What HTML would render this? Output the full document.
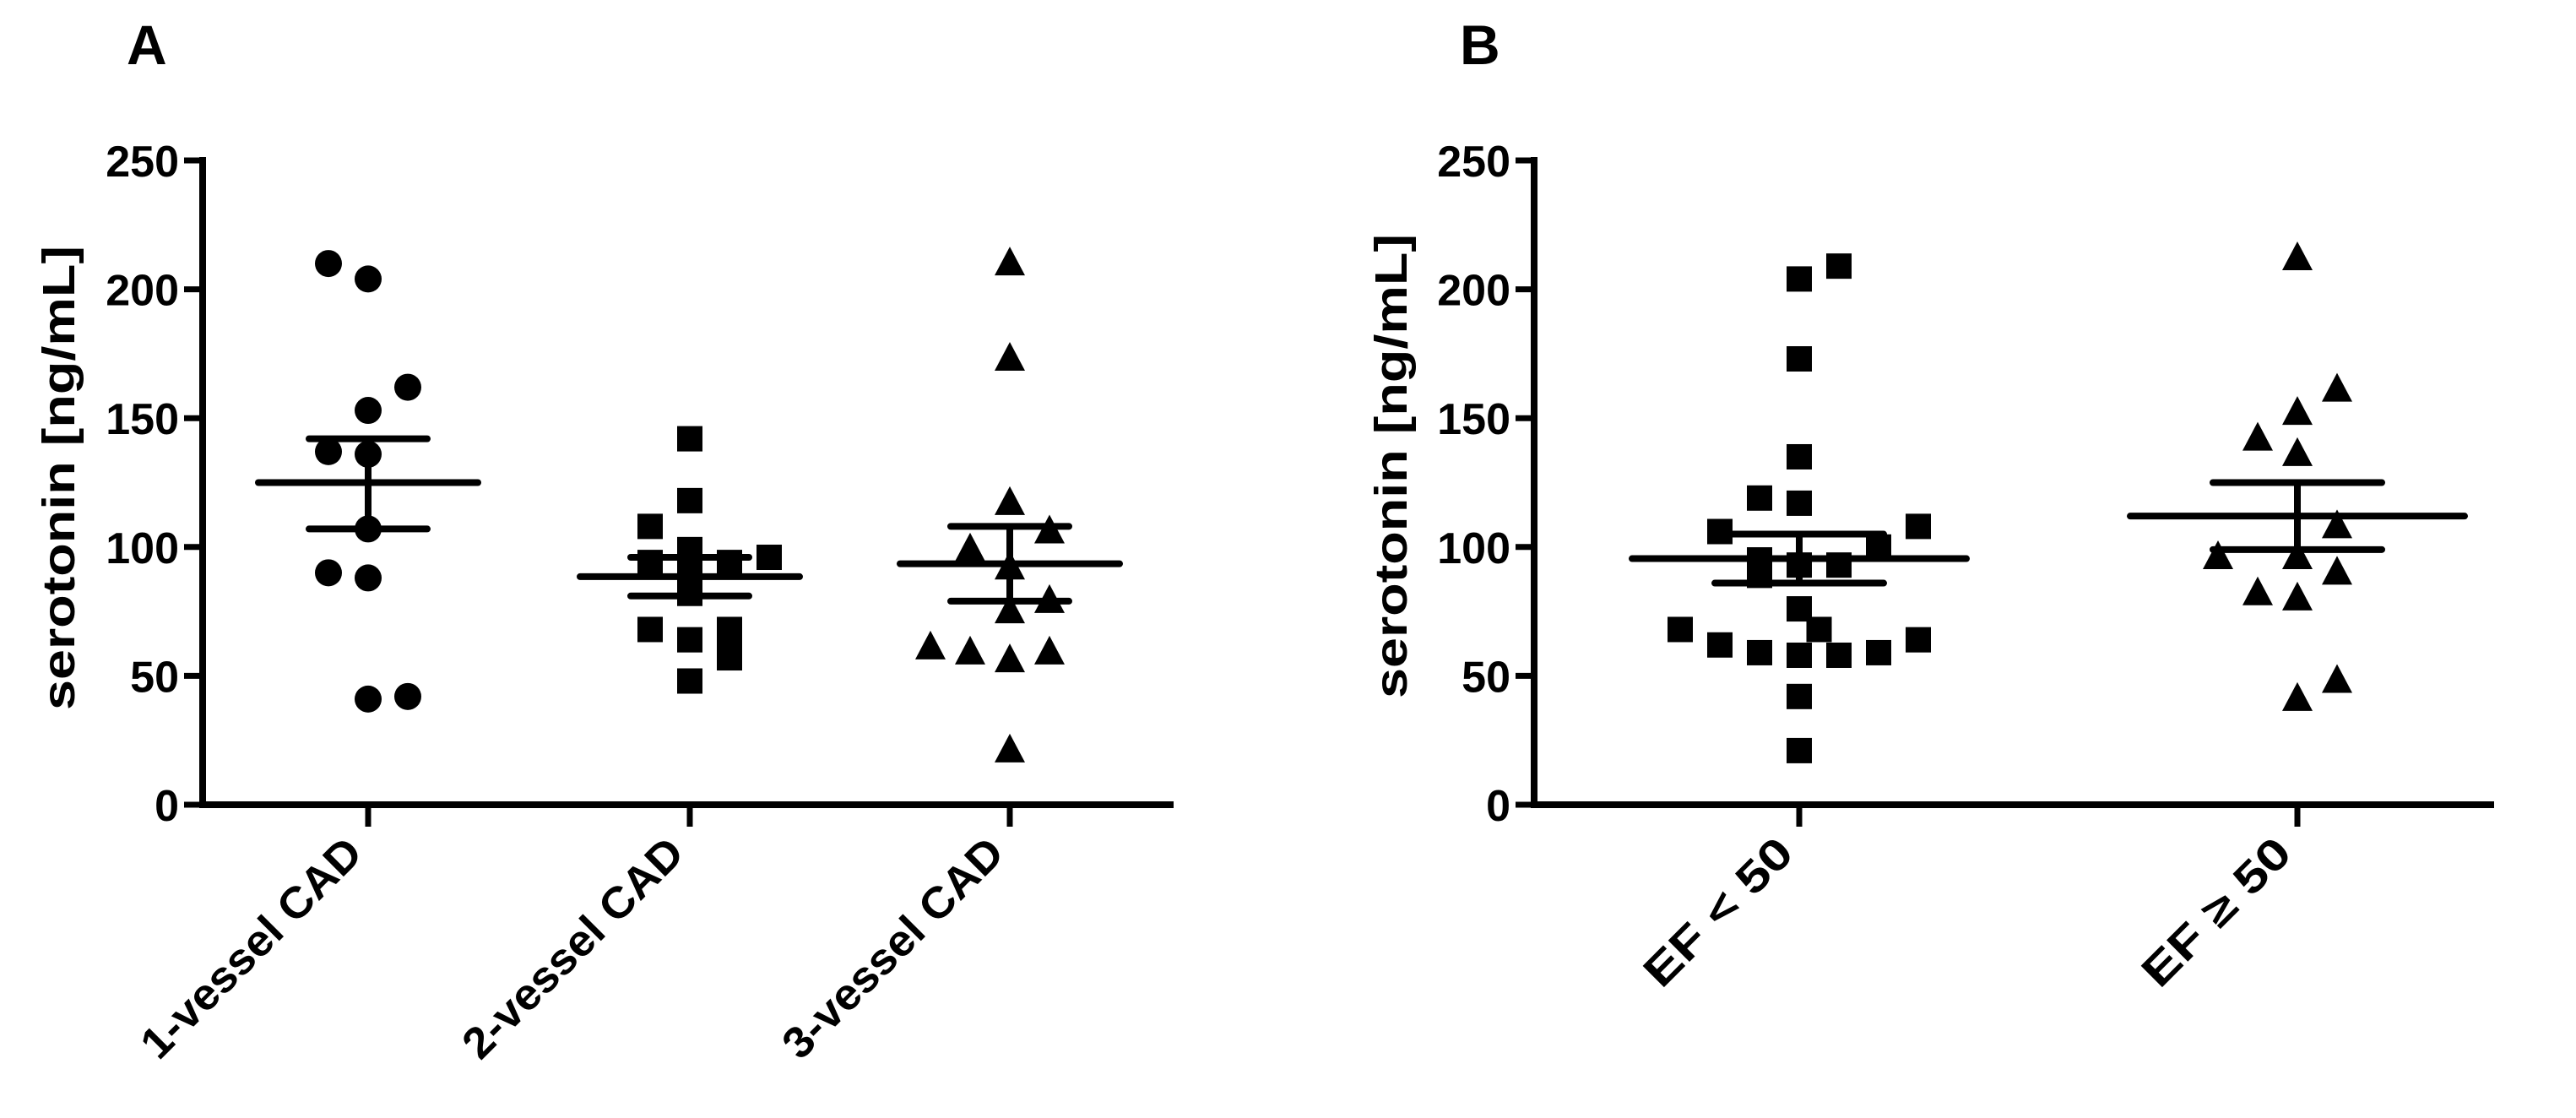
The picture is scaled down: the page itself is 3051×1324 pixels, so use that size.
<!DOCTYPE html>
<html><head><meta charset="utf-8"><style>
html,body{margin:0;padding:0;background:#fff;}
svg{display:block;}
text{font-family:"Liberation Sans",Arial,sans-serif;font-weight:bold;fill:#000;}
</style></head><body>
<svg id="chart" width="3051" height="1324" viewBox="0 0 3051 1324" xmlns="http://www.w3.org/2000/svg"></svg>
<script>
// ---- data ----
const yTicks = [0, 50, 100, 150, 200, 250];
const catsA = ["1-vessel CAD", "2-vessel CAD", "3-vessel CAD"];
const catsB = ["EF < 50", "EF \u2265 50"];
// values and jitter slot (in marker steps) per group
const a1Vals = [210, 204, 162, 153, 137, 136, 107, 90, 88, 41, 42];
const a1Slot = [-1, 0, 1, 0, -1, 0, 0, -1, 0, 0, 1];
const a2Vals = [142, 118, 108, 99, 96, 94, 94, 90, 82, 68, 64, 68, 60, 57, 48];
const a2Slot = [0, 0, -1, 0, 2, -1, 1, 0, 0, -1, 0, 1, 1, 1, 0];
const a3Vals = [210, 173, 117, 106, 99, 92, 79, 75, 61, 59, 56, 59, 21];
const a3Slot = [0, 0, 0, 1, -1, 0, 1, 0, -2, -1, 0, 1, 0];
const b1Vals = [21, 42, 59, 62, 68, 58, 58, 59, 64, 68, 76, 89, 93, 93, 95, 100, 106, 108, 117, 119, 135, 173, 204, 209];
const b1Slot = [0, 0, -1, -2, -3, 0, 1, 2, 3, 0.5, 0, -1, 0, 1, -1, 2, -2, 3, 0, -1, 0, 0, 0, 1];
const b2Vals = [212, 161, 152, 142, 136, 108, 96, 96, 90, 82, 80, 48, 41];
const b2Slot = [0, 1, 0, -1, 0, 1, -2, 0, 1, -1, 0, 1, 0];
const meansA = [125, 88.5, 93.5];
const upperA = [142, 96, 108];
const lowerA = [107, 81, 79];
const meansB = [95.5, 112];
const upperB = [105, 125];
const lowerB = [86, 99];

const NS = "http://www.w3.org/2000/svg";
const svg = document.getElementById("chart");
function mk(tag, attrs, parent) {
  const e = document.createElementNS(NS, tag);
  for (const k in attrs) e.setAttribute(k, attrs[k]);
  (parent || svg).appendChild(e);
  return e;
}
const Y0 = 953, Y250 = 190;
function yS(v) { return Y0 - (v / 250) * (Y0 - Y250); }
const STEP = 47;

function drawPanel(p) {
  const g = mk("g", {});
  
  
  const L = mk("text", { x: p.letterX, y: 76, "font-size": 66 }, g);
  L.textContent = p.letter;
  
  
  const ax = mk("path", { d: `M${p.ax},${yS(250)} V${Y0} H${p.axEnd}`, stroke: "#000", "stroke-width": 8, fill: "none", "stroke-linecap": "square" }, g);
  
  
  yTicks.forEach(t => {
    const tk = mk("line", { x1: p.ax - 22, x2: p.ax, y1: yS(t), y2: yS(t), stroke: "#000", "stroke-width": 7 }, g);
    
    
    const tl = mk("text", { x: p.ax - 28, y: yS(t) + 19, "font-size": 52, "text-anchor": "end" }, g);
    tl.textContent = t;
    
    
  });
  const yt = mk("text", { x: 0, y: 0, "font-size": 54, "text-anchor": "middle", textLength: 550, lengthAdjust: "spacingAndGlyphs", transform: `translate(${p.titleX},${p.titleY}) rotate(-90)` }, g);
  yt.textContent = "serotonin [ng/mL]";
  
  
  p.cats.forEach((c, i) => {
    const cx = p.catX[i];
    const tk = mk("line", { x1: cx, x2: cx, y1: Y0, y2: Y0 + 26, stroke: "#000", "stroke-width": 7 }, g);
    
    
    const lx = cx - 4, ly = Y0 + 60;
    const t = mk("text", { x: 0, y: 0, "font-size": 52, "text-anchor": "end", textLength: p.labLen[i], lengthAdjust: "spacingAndGlyphs", transform: `translate(${lx},${ly}) rotate(-45)` }, g);
    t.textContent = c;
    
    
    const vals = p.vals[i], slots = p.slots[i], shape = p.shapes[i];
    vals.forEach((v, j) => {
      const x = cx + slots[j] * STEP, y = yS(v);
      let m;
      if (shape === "circle") m = mk("circle", { cx: x, cy: y, r: 16 }, g);
      else if (shape === "square") m = mk("rect", { x: x - 15, y: y - 15, width: 30, height: 30 }, g);
      else m = mk("polygon", { points: `${x},${y - 20} ${x + 18},${y + 14} ${x - 18},${y + 14}` }, g);
      
      
    });
    const mh = p.meanHalf, sh = p.semHalf;
    const ml = mk("line", { x1: cx - mh, x2: cx + mh, y1: yS(p.means[i]), y2: yS(p.means[i]), stroke: "#000", "stroke-width": 8, "stroke-linecap": "round" }, g);
    
    
    const sp = mk("path", { d: `M${cx - sh},${yS(p.upper[i])} H${cx + sh} M${cx - sh},${yS(p.lower[i])} H${cx + sh} M${cx},${yS(p.upper[i])} V${yS(p.lower[i])}`, stroke: "#000", "stroke-width": 8, fill: "none", "stroke-linecap": "round" }, g);
    
    
  });
}

drawPanel({ name: "panel-a", letter: "A", letterX: 150, ax: 240, axEnd: 1386, titleX: 88, titleY: 566,
  cats: catsA, catX: [436, 817, 1196], labLen: [345, 345, 345],
  vals: [a1Vals, a2Vals, a3Vals], slots: [a1Slot, a2Slot, a3Slot], shapes: ["circle", "square", "triangle"],
  means: meansA, upper: upperA, lower: lowerA, meanHalf: 130, semHalf: 70 });
drawPanel({ name: "panel-b", letter: "B", letterX: 1729, ax: 1817, axEnd: 2950, titleX: 1666, titleY: 552,
  cats: catsB, catX: [2131, 2721], labLen: [225, 225],
  vals: [b1Vals, b2Vals], slots: [b1Slot, b2Slot], shapes: ["square", "triangle"],
  means: meansB, upper: upperB, lower: lowerB, meanHalf: 198, semHalf: 100 });
</script>
</body></html>
